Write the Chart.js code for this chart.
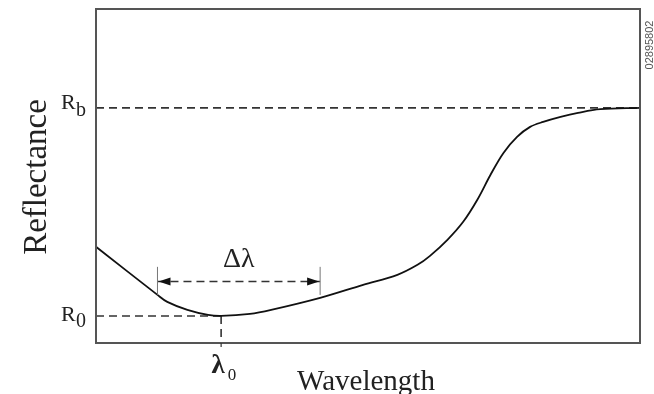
<!DOCTYPE html>
<html><head><meta charset="utf-8">
<script src="https://cdn.jsdelivr.net/npm/chart.js@4"></script>
<style>html,body{margin:0;padding:0;background:#fff}#wrap{width:654px;height:394px}</style>
</head><body><div id="wrap"><canvas id="c" width="654" height="394"></canvas></div>
<script>
// Data (arbitrary units: wavelength 0-100, reflectance 0-100)
const wavelength  = [0, 11.3, 13.1, 16.8, 20.6, 23.0, 28.3, 32.2, 41.2, 49.1, 55.4, 59.1, 61.4, 64.6, 67.5, 70.1, 72.5, 74.9, 77.4, 79.8, 82.2, 85.4, 88.6, 92.7, 100];
const reflectance = [28.8, 14.4, 12.3, 9.9, 8.4, 8.1, 8.7, 9.9, 13.5, 17.4, 20.4, 23.4, 26.1, 30.9, 36.3, 42.9, 50.3, 56.9, 61.7, 64.7, 66.2, 67.7, 68.9, 70.0, 70.4];
const R0 = 8.1, Rb = 70.4, lambda0 = 23.0;
const deltaRange = [11.3, 41.2];
const deltaY = 18.4, deltaTick = [14.4, 22.8];

const curve = wavelength.map((x, i) => ({x, y: reflectance[i]}));
const dash = {borderColor:'#333', borderWidth:1.6, borderDash:[8,5], pointRadius:0, fill:false, tension:0};

const overlay = {
  id:'overlay',
  afterDraw(chart){
    const ctx = chart.ctx, a = chart.chartArea, xs = chart.scales.x, ys = chart.scales.y;
    ctx.save();
    // box
    ctx.strokeStyle = '#555'; ctx.lineWidth = 2;
    ctx.strokeRect(a.left, a.top, a.right - a.left, a.bottom - a.top);
    // delta ticks
    ctx.strokeStyle = '#777'; ctx.lineWidth = 1;
    deltaRange.forEach(v => {
      const px = xs.getPixelForValue(v);
      ctx.beginPath(); ctx.moveTo(px, ys.getPixelForValue(deltaTick[1])); ctx.lineTo(px, ys.getPixelForValue(deltaTick[0])); ctx.stroke();
    });
    // arrowheads
    const ay = ys.getPixelForValue(deltaY);
    const x1 = xs.getPixelForValue(deltaRange[0]), x2 = xs.getPixelForValue(deltaRange[1]);
    ctx.fillStyle = '#111';
    ctx.beginPath(); ctx.moveTo(x1 + 1, ay); ctx.lineTo(x1 + 13, ay - 4); ctx.lineTo(x1 + 13, ay + 4); ctx.closePath(); ctx.fill();
    ctx.beginPath(); ctx.moveTo(x2 - 1, ay); ctx.lineTo(x2 - 13, ay - 4); ctx.lineTo(x2 - 13, ay + 4); ctx.closePath(); ctx.fill();
    // tick below axis at lambda0
    const lx = xs.getPixelForValue(lambda0);
    ctx.strokeStyle = '#333'; ctx.lineWidth = 1.2;
    ctx.beginPath(); ctx.moveTo(lx, a.bottom); ctx.lineTo(lx, a.bottom + 4); ctx.stroke();

    const serif = '"Liberation Serif", "DejaVu Serif", serif';
    ctx.fillStyle = '#222';
    // Rb, R0 labels
    ctx.textBaseline = 'alphabetic'; ctx.textAlign = 'left';
    const rbY = ys.getPixelForValue(Rb), r0Y = ys.getPixelForValue(R0);
    ctx.font = '22px ' + serif;
    ctx.fillText('R', 61, rbY + 1);
    ctx.fillText('R', 61, r0Y + 5);
    ctx.font = '20px ' + serif;
    ctx.fillText('b', 76, rbY + 8);
    ctx.fillText('0', 76, r0Y + 11);
    // Delta lambda
    ctx.font = '28px ' + serif;
    ctx.textAlign = 'center';
    ctx.fillText('Δλ', (x1 + x2) / 2, 267);
    // lambda0
    ctx.font = 'bold 27px ' + serif;
    ctx.fillText('λ', lx - 3, 373);
    ctx.font = '17px ' + serif;
    ctx.fillText('0', lx + 11, 380);
    // Wavelength
    ctx.font = '29px ' + serif;
    ctx.fillText('Wavelength', 366, 390);
    // Reflectance
    ctx.save();
    ctx.translate(46, 177); ctx.rotate(-Math.PI / 2);
    ctx.font = '33px ' + serif;
    ctx.fillText('Reflectance', 0, 0);
    ctx.restore();
    // figure code
    ctx.save();
    ctx.translate(653, 45); ctx.rotate(-Math.PI / 2);
    ctx.font = '11px "Liberation Sans", Arial, sans-serif';
    ctx.fillStyle = '#555';
    ctx.textAlign = 'center';
    ctx.fillText('02895802', 0, 0);
    ctx.restore();
    ctx.restore();
  }
};

new Chart(document.getElementById('c'), {
  type: 'line',
  data: {
    datasets: [
      {data: curve, borderColor:'#111', borderWidth:1.8, pointRadius:0, fill:false, tension:0.35},
      Object.assign({data:[{x:0,y:Rb},{x:100,y:Rb}]}, dash),
      Object.assign({data:[{x:0,y:R0},{x:lambda0,y:R0}]}, dash),
      Object.assign({data:[{x:lambda0,y:R0},{x:lambda0,y:0}]}, dash),
      Object.assign({data:[{x:deltaRange[0],y:deltaY},{x:deltaRange[1],y:deltaY}]}, dash)
    ]
  },
  options: {
    responsive:false, animation:false,
    layout:{padding:{left:96, right:14, top:9, bottom:51}},
    plugins:{legend:{display:false}, tooltip:{enabled:false}},
    scales:{
      x:{type:'linear', min:0, max:100, display:false},
      y:{type:'linear', min:0, max:100, display:false}
    }
  },
  plugins:[overlay]
});
</script></body></html>
